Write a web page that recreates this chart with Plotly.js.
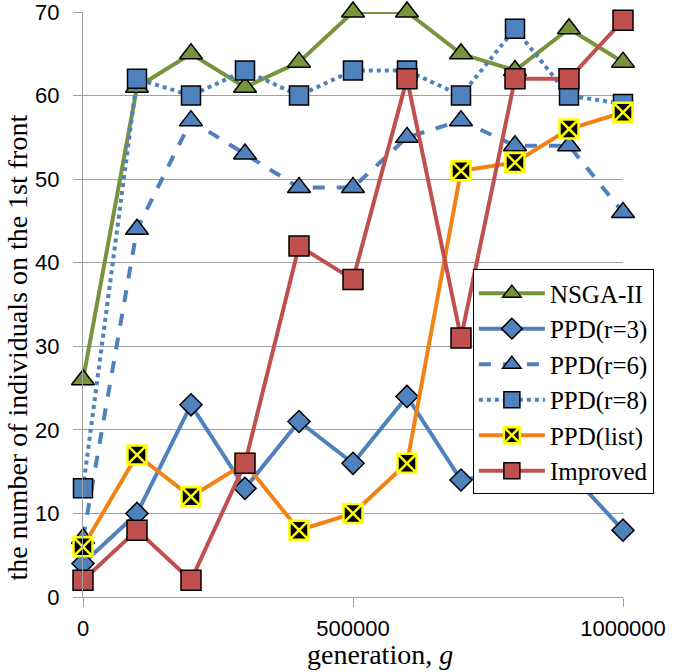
<!DOCTYPE html>
<html><head><meta charset="utf-8">
<script src="https://cdn.plot.ly/plotly-3.0.1.min.js"></script>
<style>body{margin:0;background:#fff}#chart{width:685px;height:672px}</style>
</head><body><div id="chart"></div>
<script>
const generations = [0,100000,200000,300000,400000,500000,600000,700000,800000,900000,1000000];
const nsga2   = [26,61,65,61,64,70,70,65,63,68,64];
const ppdR3   = [4,10,23,13,21,16,24,14,15,15,8];
const ppdR6   = [7,44,57,53,49,49,55,57,54,54,46];
const ppdR8   = [13,62,60,63,60,63,63,60,68,60,59];
const ppdList = [6,17,12,16,8,10,16,51,52,56,58];
const improved= [2,8,2,16,42,38,62,31,62,62,69];
const xTickVals = [0,500000,1000000];
const xTickText = ['0','500000','1000000'];
const xTitle = 'generation, <i>g</i>';
const yTitle = 'the number of individuals on the 1st front';

const outline = {color:'#000', width:1.5};
function tr(name, y, lineColor, dash, symbol, fill, size, mline){
  return {x:generations, y:y, name:name, type:'scatter', mode:'lines+markers', cliponaxis:false,
    line:{color:lineColor, width:4, dash:dash},
    marker:{symbol:symbol, color:fill, size:size, line:mline||outline}};
}
const data = [
  tr('NSGA-II', nsga2, '#77933C', 'solid', 'triangle-up', '#77933C', 20),
  tr('PPD(r=3)', ppdR3, '#4F81BD', 'solid', 'diamond', '#4F81BD', 17),
  tr('PPD(r=6)', ppdR6, '#4F81BD', 'dash', 'triangle-up', '#4F81BD', 20),
  tr('PPD(r=8)', ppdR8, '#4F81BD', 'dot', 'square', '#4F81BD', 19),
  tr('PPD(list)', ppdList, '#F38214', 'solid', 'square-x', '#000000', 19, {color:'#FFFF00', width:2.5}),
  tr('Improved', improved, '#C0504D', 'solid', 'square', '#C0504D', 20),
];
const serif = 'Liberation Serif, Times New Roman, serif';
const sans = 'Liberation Sans, Arial, sans-serif';
const layout = {
  width:685, height:672,
  margin:{l:83, r:62, t:12, b:75, autoexpand:false},
  paper_bgcolor:'#fff', plot_bgcolor:'#fff',
  showlegend:true,
  legend:{x:0.722, xanchor:'left', y:0.56, yanchor:'top', bgcolor:'#fff', bordercolor:'#000', borderwidth:1,
    font:{family:serif, size:25, color:'#000'}, itemwidth:66, tracegroupgap:0},
  xaxis:{range:[0,1000000], tickvals:xTickVals, ticktext:xTickText,
    showgrid:false, zeroline:false, showline:true, linecolor:'#a0a0a0', linewidth:1,
    ticks:'outside', ticklen:9, tickcolor:'#a0a0a0', ticklabelstandoff:3, ticklabeloverflow:'allow',
    tickfont:{family:sans, size:22, color:'#000'}},
  yaxis:{range:[0,70], dtick:10, showgrid:true, gridcolor:'#a0a0a0', gridwidth:1, zeroline:false,
    showline:true, linecolor:'#a0a0a0', linewidth:1, ticks:'outside', ticklen:9, tickcolor:'#a0a0a0',
    ticklabelstandoff:9, ticklabeloverflow:'allow',
    tickfont:{family:sans, size:22, color:'#000'}},
  annotations:[
    {text:xTitle, xref:'paper', yref:'paper', x:0.55, y:-0.099, xanchor:'center', yanchor:'middle',
     showarrow:false, font:{family:serif, size:28, color:'#000'}},
    {text:yTitle, xref:'paper', yref:'paper', x:-0.123, y:0.4256, xanchor:'center', yanchor:'middle',
     textangle:-90, showarrow:false, font:{family:serif, size:28, color:'#000'}}
  ]
};
Plotly.newPlot('chart', data, layout, {displayModeBar:false, staticPlot:true});
</script></body></html>
